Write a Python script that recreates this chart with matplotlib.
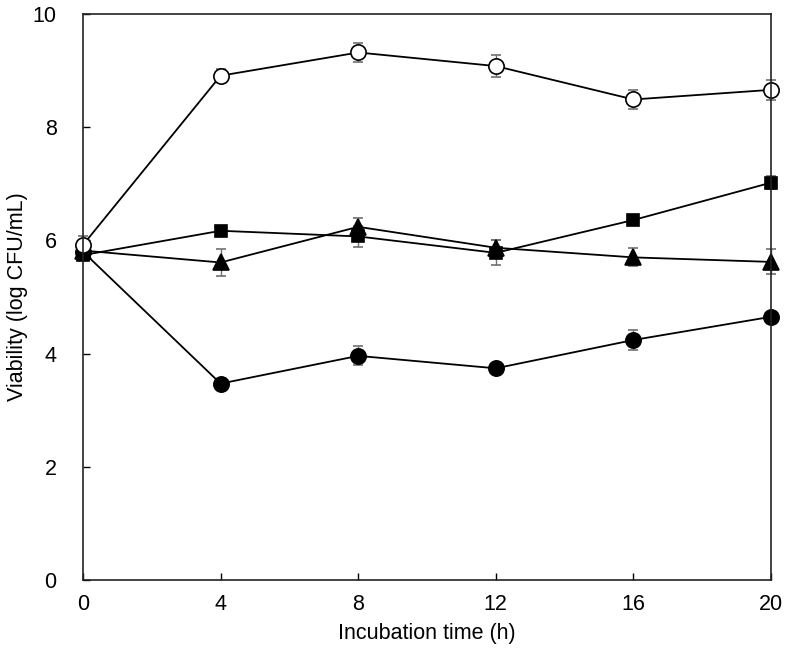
import matplotlib
matplotlib.use("Agg")
import matplotlib.pyplot as plt

plt.rcParams['font.family'] = ['Liberation Sans', 'DejaVu Sans']

time_h = [0, 4, 8, 12, 16, 20]

open_circle = [5.92, 8.91, 9.32, 9.08, 8.49, 8.66]
open_circle_err = [0.15, 0.12, 0.17, 0.2, 0.17, 0.18]

square = [5.74, 6.17, 6.07, 5.78, 6.36, 7.02]
square_err = [0.08, 0.08, 0.18, 0.22, 0.06, 0.12]

triangle = [5.82, 5.61, 6.24, 5.87, 5.70, 5.62]
triangle_err = [0.1, 0.24, 0.15, 0.13, 0.16, 0.22]

filled_circle = [5.80, 3.47, 3.96, 3.74, 4.24, 4.65]
filled_circle_err = [0.08, 0.06, 0.17, 0.1, 0.18, 0.06]

x_ticks = [0, 4, 8, 12, 16, 20]
y_ticks = [0, 2, 4, 6, 8, 10]

fig = plt.figure(figsize=(7.86, 6.51), dpi=100)
ax = fig.add_axes([83/786, 71/651, 688/786, 566/651])

ecol = '#707070'
common = dict(color='black', lw=1.3, ecolor=ecol, elinewidth=1.0, capsize=3.5, capthick=1.0)

series = [
    (filled_circle, filled_circle_err, 'o', 11, 'black'),
    (triangle, triangle_err, '^', 11, 'black'),
    (square, square_err, 's', 9, 'black'),
    (open_circle, open_circle_err, 'o', 11, 'white'),
]
for vals, errs, mk, ms, fc in series:
    cont = ax.errorbar(time_h, vals, yerr=errs, marker=mk, ms=ms,
                       mfc=fc, mec='black', mew=1.2, **common)
    line, caps, bars = cont.lines
    line.set_clip_on(False)
    for c in caps:
        c.set_clip_on(False)
    for b in bars:
        b.set_clip_on(False)

ax.set_xlim(0, 20)
ax.set_ylim(0, 10)
ax.set_xticks(x_ticks)
ax.set_yticks(y_ticks)
ax.tick_params(direction='in', length=5, width=1, labelsize=15.5)
ax.tick_params(axis='x', pad=10)
ax.tick_params(axis='y', pad=19)
ax.tick_params(axis='both', top=False, right=False)
for s in ax.spines.values():
    s.set_linewidth(1.2)
    s.set_color('#222222')

ax.set_xlabel('Incubation time (h)', fontsize=15.5, labelpad=6)
ax.set_ylabel('Viability (log CFU/mL)', fontsize=15.5)
ax.yaxis.set_label_coords(-0.08, 0.5)

fig.savefig('out.png', dpi=100)
